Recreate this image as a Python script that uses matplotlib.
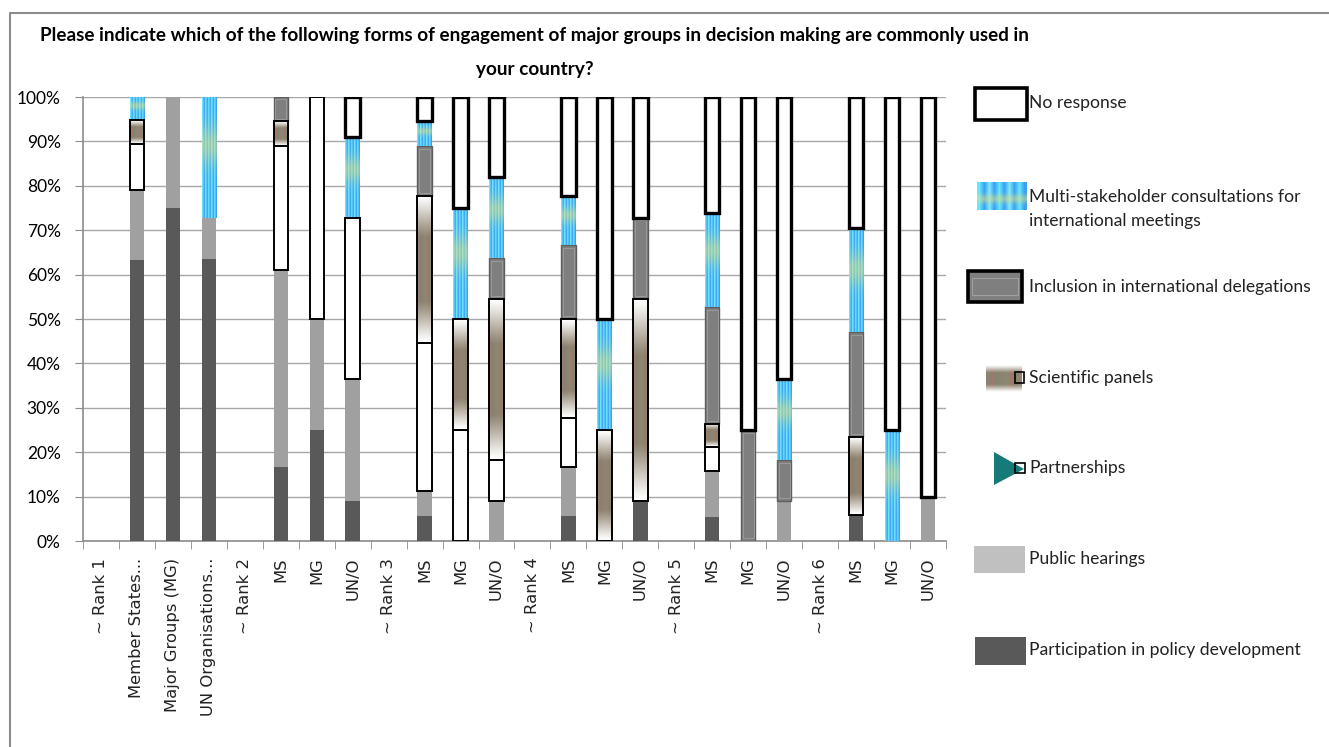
import numpy as np
import matplotlib
matplotlib.use('Agg')
import matplotlib.pyplot as plt
from matplotlib.patches import Rectangle, Polygon
from matplotlib.colors import to_rgb

categories = ['~ Rank 1', 'Member States...', 'Major Groups (MG)', 'UN Organisations...',
              '~ Rank 2', 'MS', 'MG', 'UN/O',
              '~ Rank 3', 'MS', 'MG', 'UN/O',
              '~ Rank 4', 'MS', 'MG', 'UN/O',
              '~ Rank 5', 'MS', 'MG', 'UN/O',
              '~ Rank 6', 'MS', 'MG', 'UN/O']

# shares in percent, stacked bottom to top
participation = [0, 63.2, 75, 63.6, 0, 16.7, 25, 9.1, 0, 5.6, 0, 0, 0, 5.6, 0, 9.1, 0, 5.3, 0, 0, 0, 5.9, 0, 0]
public_hearings = [0, 15.8, 25, 9.1, 0, 44.4, 25, 27.3, 0, 5.6, 0, 9.1, 0, 11.1, 0, 0, 0, 10.5, 0, 9.1, 0, 0, 0, 10]
partnerships = [0, 10.5, 0, 0, 0, 27.8, 50, 36.4, 0, 33.3, 25, 9.1, 0, 11.1, 0, 0, 0, 5.3, 0, 0, 0, 0, 0, 0]
scientific = [0, 5.3, 0, 0, 0, 5.6, 0, 0, 0, 33.3, 25, 36.4, 0, 22.2, 25, 45.5, 0, 5.3, 0, 0, 0, 17.6, 0, 0]
inclusion = [0, 0, 0, 0, 0, 5.6, 0, 0, 0, 11.1, 0, 9.1, 0, 16.7, 0, 18.2, 0, 26.3, 25, 9.1, 0, 23.5, 0, 0]
multi_stakeholder = [0, 5.3, 0, 27.3, 0, 0, 0, 18.2, 0, 5.6, 25, 18.2, 0, 11.1, 25, 0, 0, 21.1, 0, 18.2, 0, 23.5, 25, 0]
no_response = [0, 0, 0, 0, 0, 0, 0, 9.1, 0, 5.6, 25, 18.2, 0, 22.2, 50, 27.3, 0, 26.3, 75, 63.6, 0, 29.4, 75, 90]

legend_labels = ['No response',
                 'Multi-stakeholder consultations for\ninternational meetings',
                 'Inclusion in international delegations',
                 'Scientific panels',
                 'Partnerships',
                 'Public hearings',
                 'Participation in policy development']

# striped blue fill with a yellow glow
rows = np.linspace(0, 1, 80)
stripe_cols = ['#66e6ff', '#3aa0f0', '#7fe8ff', '#3aa0f0', '#66e6ff', '#3aa0f0',
               '#7fe8ff', '#3aa0f0', '#66e6ff', '#3aa0f0']
base = np.array([to_rgb(c) for c in stripe_cols])
glow = np.exp(-((rows - 0.4) / 0.16) ** 2) * 0.5
multi_tex = base[None, :, :] * (1 - glow[:, None, None]) + np.array(to_rgb('#e6e27a'))[None, None, :] * glow[:, None, None]

# white-to-grey fade with thin reddish / greenish threads
sci_cols = ['#8a8474', '#a0786a', '#7c8870', '#958070', '#868a74', '#a27a6a', '#82846e', '#948272']
sci_base = np.array([to_rgb(c) for c in sci_cols])
dark = np.clip(np.sin(np.pi * rows) * 1.3, 0, 1) ** 1.2
sci_tex = np.ones((len(rows), len(sci_cols), 3)) * (1 - dark[:, None, None]) + sci_base[None, :, :] * dark[:, None, None]


def fill_texture(ax, patch, tex, z):
    x0, y0 = patch.get_x(), patch.get_y()
    w, h = patch.get_width(), patch.get_height()
    im = ax.imshow(tex, extent=[x0, x0 + w, y0, y0 + h], aspect='auto',
                   interpolation='bilinear', zorder=z, origin='upper')
    im.set_clip_path(patch)


def add_triangle(ax, patch, color, z):
    x0, y0 = patch.get_x(), patch.get_y()
    w, h = patch.get_width(), patch.get_height()
    tri = Polygon([(x0, y0 + 0.04 * h), (x0, y0 + 0.78 * h), (x0 + w, y0 + 0.36 * h)],
                  closed=True, facecolor=color, edgecolor='none', zorder=z)
    ax.add_patch(tri)
    tri.set_clip_path(patch)


def hide_empty(bars):
    for b in bars:
        if b.get_height() <= 0:
            b.set_visible(False)
    return [b for b in bars if b.get_visible()]


fig = plt.figure(figsize=(13.29, 7.47), dpi=100)
ax = fig.add_axes([83 / 1329, 1 - 541 / 747, (946 - 83) / 1329, (541 - 97) / 747])

x = np.arange(len(categories))
width = 0.4
bottom = np.zeros(len(categories))

hide_empty(ax.bar(x, participation, width, bottom=bottom, color='#595959', zorder=3))
bottom += participation
hide_empty(ax.bar(x, public_hearings, width, bottom=bottom, color='#a0a0a0', zorder=3))
bottom += public_hearings

bars = hide_empty(ax.bar(x, partnerships, width, bottom=bottom, facecolor='white',
                         edgecolor='black', lw=1.4, zorder=4))
for b in bars:
    add_triangle(ax, b, '#003a70', 3.5)
bottom += partnerships

bars = hide_empty(ax.bar(x, scientific, width, bottom=bottom, facecolor='none',
                         edgecolor='black', lw=1.4, zorder=4))
for b in bars:
    fill_texture(ax, b, sci_tex, 3.5)
bottom += scientific

bars = hide_empty(ax.bar(x, inclusion, width, bottom=bottom, facecolor='#7f7f7f',
                         edgecolor='#5e5e5e', lw=1.0, zorder=3))
for b in bars:
    inner = Rectangle((b.get_x() + 0.12 * width, b.get_y() + 0.6), 0.76 * width, b.get_height() - 1.2,
                      facecolor='none', edgecolor='#9a9a9a', lw=0.7, zorder=3.2)
    ax.add_patch(inner)
bottom += inclusion

bars = hide_empty(ax.bar(x, multi_stakeholder, width, bottom=bottom, facecolor='none',
                         edgecolor='none', zorder=4))
for b in bars:
    fill_texture(ax, b, multi_tex, 3.5)
bottom += multi_stakeholder

hide_empty(ax.bar(x, no_response, width, bottom=bottom, facecolor='white', edgecolor='black', lw=2.4, zorder=4))

ax.set_xlim(-0.5, len(categories) - 0.5)
ax.set_ylim(0, 100)
ax.set_yticks(np.arange(0, 101, 10))
ax.set_yticklabels([f'{v}%' for v in range(0, 101, 10)], family='Lato', fontsize=12.5)
ax.yaxis.grid(True, color='#a8a8a8', lw=1.0, zorder=0)
ax.set_axisbelow(True)
ax.tick_params(axis='y', length=6, color='#8c8c8c', pad=10)

ax.set_xticks(x)
ax.set_xticklabels(categories, rotation=90, family='DejaVu Sans', fontsize=11.8, color='#222222')
ax.set_xticks(np.arange(-0.5, len(categories)), minor=True)
ax.tick_params(axis='x', which='major', length=0, pad=12)
ax.tick_params(axis='x', which='minor', length=6, color='#8c8c8c')

for side in ['top', 'right']:
    ax.spines[side].set_visible(False)
for side in ['left', 'bottom']:
    ax.spines[side].set_color('#8c8c8c')
    ax.spines[side].set_linewidth(1.2)

# overlay in pixel units for title, frame and legend
lax = fig.add_axes([0, 0, 1, 1])
lax.axis('off')

lax.plot([10, 10, 1329], [747, 13, 13], color='#8c8c8c', lw=1.5)
lax.text(535, 35, 'Please indicate which of the following forms of engagement of major groups in decision making are commonly used in',
         ha='center', va='center', family='Lato', fontweight='bold', fontsize=13.6)
lax.text(535, 69, 'your country?', ha='center', va='center', family='Lato', fontweight='bold', fontsize=13.6)

lax.add_patch(Rectangle((975, 88), 52, 32, facecolor='white', edgecolor='black', lw=2.6))

lax.imshow(multi_tex[::-1], extent=[977, 1027, 210, 182], aspect='auto', interpolation='bilinear')

lax.add_patch(Rectangle((968, 271), 54, 31, facecolor='#7f7f7f', edgecolor='black', lw=2.6))
lax.add_patch(Rectangle((972, 278), 46, 17, facecolor='none', edgecolor='#a0a0a0', lw=0.8))

lax.imshow(sci_tex, extent=[986, 1022, 392, 365], aspect='auto', interpolation='bilinear')
lax.add_patch(Rectangle((1015, 372), 9, 11, facecolor='none', edgecolor='black', lw=1.2))

lax.add_patch(Polygon([(994, 452), (994, 485), (1024, 469)], closed=True, facecolor='#157a78', edgecolor='none'))
lax.add_patch(Rectangle((1015, 463), 10, 10, facecolor='none', edgecolor='black', lw=1.2))

lax.add_patch(Rectangle((974, 546), 51, 27, facecolor='#c0c0c0', edgecolor='none'))
lax.add_patch(Rectangle((975, 637), 51, 28, facecolor='#595959', edgecolor='none'))

lax.set_xlim(0, 1329)
lax.set_ylim(747, 0)

text_y = [103, 209, 287, 378, 468, 559, 650]
for label, ty in zip(legend_labels, text_y):
    lax.text(1029, ty, label, ha='left', va='center', family='Lato', fontsize=12.6,
             color='#222222', linespacing=1.55)

fig.savefig('out.png', dpi=100)
